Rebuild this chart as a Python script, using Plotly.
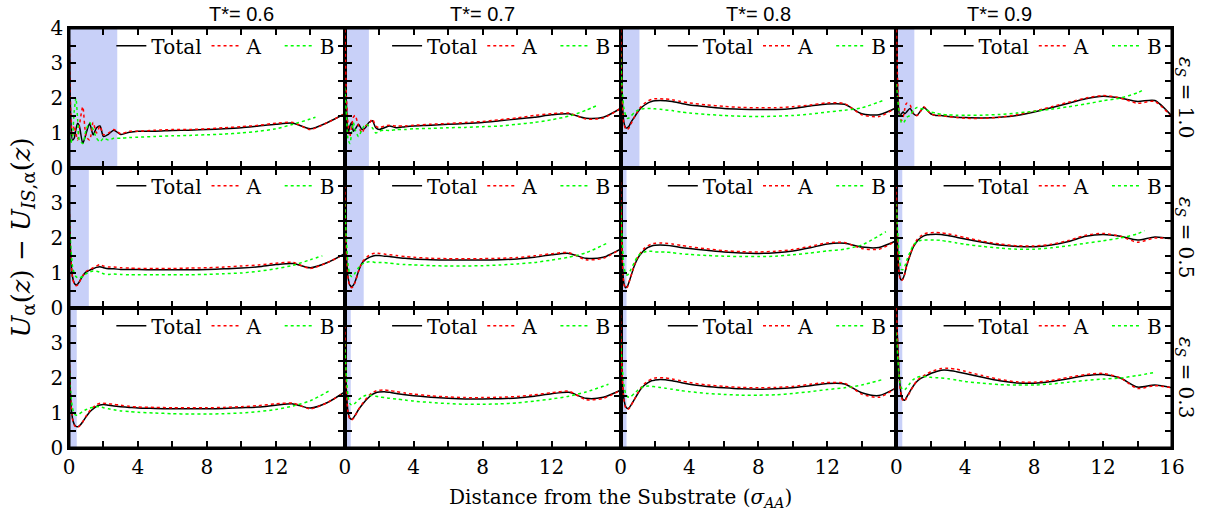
import plotly.graph_objects as go
from plotly.subplots import make_subplots

# ---------------- data ----------------
X = [0, 0.1, 0.2, 0.3, 0.4, 0.5, 0.6, 0.8, 1.0, 1.2, 1.4, 1.6, 1.8, 2.0, 2.3, 2.6,
     3.0, 3.5, 4, 5, 6, 7, 8, 9, 10, 11, 12, 13, 14, 15, 16]
X_B_BASE = X[:29]  # B component grid up to 14, then its own end point

TEMPS = ["0.6", "0.7", "0.8", "0.9"]
EPS = ["1.0", "0.5", "0.3"]

SHADE_END = [[2.8, 1.4, 1.1, 1.05],
             [1.15, 1.1, 0.35, 0.35],
             [0.45, 0.35, 0.35, 0.35]]
B_END = [[14.3, 14.7, 15.3, 14.4],
         [14.7, 15.3, 15.4, 14.4],
         [15.2, 15.3, 15.3, 15.0]]

# eps_S = 1.0
total_e10_t06 = [4.3, 1.5, 0.8, 0.85, 1.1, 1.28, 1.2, 0.7, 1.0, 1.27, 0.95, 1.15, 1.2, 0.9, 0.97, 1.08,
                 0.96, 1.02, 1.05, 1.05, 1.07, 1.08, 1.1, 1.12, 1.15, 1.2, 1.25, 1.28, 1.12, 1.3, 1.55]
a_e10_t06 = [4.3, 1.6, 0.9, 1.2, 1.0, 0.8, 1.2, 1.75, 0.9, 0.8, 1.3, 1.0, 1.2, 0.95, 1.0, 1.1,
             0.98, 1.05, 1.05, 1.08, 1.1, 1.1, 1.12, 1.15, 1.18, 1.22, 1.28, 1.3, 1.1, 1.3, 1.55]
b_e10_t06 = [1.7, 0.7, 0.9, 1.6, 2.0, 1.4, 0.8, 0.7, 1.1, 1.3, 1.1, 0.85, 0.75, 0.85, 0.8, 0.85,
             0.85, 0.87, 0.88, 0.9, 0.92, 0.93, 0.95, 0.97, 1.0, 1.05, 1.12, 1.25, 1.4, 1.45]

total_e10_t07 = [4.3, 1.8, 1.0, 1.2, 1.3, 1.05, 1.1, 1.25, 1.1, 1.15, 1.3, 1.35, 1.15, 1.1, 1.15, 1.2,
                 1.15, 1.18, 1.2, 1.22, 1.25, 1.27, 1.3, 1.35, 1.4, 1.45, 1.52, 1.55, 1.42, 1.45, 1.7]
a_e10_t07 = [4.3, 2.0, 1.2, 0.9, 1.2, 1.45, 1.5, 1.2, 1.0, 1.2, 1.25, 1.4, 1.2, 1.15, 1.2, 1.22,
             1.2, 1.2, 1.22, 1.25, 1.27, 1.3, 1.33, 1.38, 1.43, 1.5, 1.55, 1.57, 1.4, 1.43, 1.7]
b_e10_t07 = [2.3, 1.5, 0.8, 0.7, 1.0, 1.3, 1.1, 0.9, 1.1, 1.25, 1.2, 1.15, 1.0, 1.05, 1.08, 1.07,
             1.1, 1.1, 1.12, 1.13, 1.15, 1.16, 1.18, 1.2, 1.25, 1.3, 1.38, 1.48, 1.65, 1.8]

total_e10_t08 = [4.3, 2.0, 1.3, 1.15, 1.15, 1.2, 1.3, 1.45, 1.6, 1.72, 1.8, 1.86, 1.9, 1.92, 1.93, 1.92,
                 1.9, 1.85, 1.8, 1.75, 1.7, 1.68, 1.67, 1.67, 1.7, 1.77, 1.83, 1.82, 1.55, 1.52, 1.72]
a_e10_t08 = [4.3, 2.0, 1.25, 1.12, 1.1, 1.15, 1.25, 1.45, 1.62, 1.76, 1.85, 1.92, 1.96, 1.98, 1.98, 1.97,
             1.95, 1.9, 1.86, 1.8, 1.76, 1.73, 1.72, 1.72, 1.75, 1.8, 1.86, 1.84, 1.52, 1.47, 1.72]
b_e10_t08 = [3.3, 2.2, 1.7, 1.5, 1.42, 1.43, 1.48, 1.58, 1.65, 1.68, 1.7, 1.7, 1.7, 1.69, 1.68, 1.66,
             1.64, 1.6, 1.57, 1.53, 1.5, 1.48, 1.47, 1.48, 1.5, 1.54, 1.6, 1.65, 1.72, 1.94]

total_e10_t09 = [4.3, 2.0, 1.5, 1.55, 1.6, 1.55, 1.6, 1.7, 1.55, 1.5, 1.62, 1.73, 1.65, 1.55, 1.5, 1.5,
                 1.47, 1.45, 1.44, 1.43, 1.45, 1.5, 1.6, 1.72, 1.85, 1.98, 2.05, 2.0, 1.9, 1.93, 1.48]
a_e10_t09 = [4.3, 2.2, 1.5, 1.35, 1.45, 1.7, 1.85, 1.8, 1.55, 1.5, 1.62, 1.75, 1.65, 1.55, 1.5, 1.5,
             1.47, 1.44, 1.42, 1.42, 1.45, 1.52, 1.62, 1.75, 1.88, 2.0, 2.07, 2.0, 1.85, 1.9, 1.45]
b_e10_t09 = [2.4, 1.9, 1.5, 1.3, 1.28, 1.35, 1.45, 1.5, 1.65, 1.73, 1.7, 1.68, 1.65, 1.6, 1.57, 1.54,
             1.52, 1.51, 1.51, 1.51, 1.53, 1.57, 1.62, 1.68, 1.75, 1.83, 1.92, 2.0, 2.15, 2.25]

# eps_S = 0.5
total_e05_t06 = [3.2, 1.5, 0.9, 0.72, 0.66, 0.68, 0.75, 0.92, 1.03, 1.08, 1.12, 1.16, 1.18, 1.15, 1.12, 1.12,
                 1.1, 1.1, 1.1, 1.09, 1.09, 1.09, 1.1, 1.12, 1.14, 1.18, 1.24, 1.27, 1.15, 1.3, 1.55]
a_e05_t06 = [3.2, 1.5, 0.88, 0.7, 0.64, 0.66, 0.74, 0.92, 1.05, 1.1, 1.15, 1.2, 1.24, 1.2, 1.17, 1.17,
             1.15, 1.14, 1.13, 1.13, 1.13, 1.14, 1.15, 1.17, 1.2, 1.23, 1.28, 1.3, 1.13, 1.3, 1.55]
b_e05_t06 = [2.8, 1.8, 1.2, 1.0, 0.9, 0.86, 0.86, 0.9, 0.98, 1.03, 1.06, 1.05, 1.02, 0.98, 0.96, 0.97,
             0.96, 0.95, 0.95, 0.95, 0.95, 0.95, 0.96, 0.98, 1.0, 1.05, 1.12, 1.22, 1.38, 1.49]

total_e05_t07 = [3.5, 1.5, 0.85, 0.65, 0.61, 0.65, 0.75, 1.05, 1.28, 1.38, 1.44, 1.48, 1.5, 1.5, 1.48, 1.47,
                 1.44, 1.42, 1.4, 1.38, 1.37, 1.37, 1.37, 1.38, 1.4, 1.45, 1.52, 1.56, 1.42, 1.45, 1.68]
a_e05_t07 = [3.5, 1.5, 0.83, 0.62, 0.58, 0.62, 0.73, 1.05, 1.3, 1.42, 1.5, 1.55, 1.57, 1.56, 1.54, 1.52,
             1.5, 1.47, 1.45, 1.42, 1.41, 1.41, 1.41, 1.42, 1.44, 1.49, 1.55, 1.58, 1.38, 1.42, 1.68]
b_e05_t07 = [3.0, 1.9, 1.2, 0.95, 0.9, 0.92, 1.0, 1.15, 1.25, 1.3, 1.32, 1.32, 1.3, 1.3, 1.3, 1.28,
             1.26, 1.24, 1.23, 1.21, 1.2, 1.2, 1.21, 1.23, 1.26, 1.3, 1.37, 1.45, 1.58, 1.87]

total_e05_t08 = [3.6, 1.4, 0.7, 0.58, 0.62, 0.75, 0.9, 1.2, 1.42, 1.56, 1.66, 1.73, 1.77, 1.79, 1.8, 1.79,
                 1.77, 1.73, 1.7, 1.65, 1.6, 1.57, 1.56, 1.58, 1.63, 1.72, 1.83, 1.85, 1.74, 1.73, 1.92]
a_e05_t08 = [3.6, 1.4, 0.68, 0.56, 0.6, 0.74, 0.9, 1.22, 1.45, 1.6, 1.71, 1.78, 1.83, 1.85, 1.86, 1.85,
             1.83, 1.79, 1.75, 1.69, 1.64, 1.61, 1.6, 1.62, 1.67, 1.76, 1.86, 1.87, 1.7, 1.68, 1.92]
b_e05_t08 = [3.0, 1.9, 1.2, 0.98, 0.94, 1.0, 1.1, 1.3, 1.48, 1.57, 1.6, 1.62, 1.62, 1.6, 1.6, 1.6,
             1.58, 1.55, 1.53, 1.5, 1.48, 1.47, 1.47, 1.48, 1.52, 1.57, 1.63, 1.68, 1.8, 2.18]

total_e05_t09 = [3.5, 1.5, 0.9, 0.8, 0.85, 1.0, 1.2, 1.5, 1.75, 1.9, 2.0, 2.06, 2.09, 2.1, 2.11, 2.1,
                 2.07, 2.02, 1.97, 1.88, 1.8, 1.76, 1.75, 1.8, 1.9, 2.05, 2.1, 2.05, 1.94, 2.03, 1.98]
a_e05_t09 = [3.5, 1.5, 0.88, 0.78, 0.83, 0.98, 1.2, 1.52, 1.78, 1.95, 2.05, 2.11, 2.14, 2.15, 2.16, 2.15,
             2.12, 2.07, 2.01, 1.91, 1.83, 1.78, 1.77, 1.82, 1.93, 2.08, 2.13, 2.05, 1.88, 2.0, 1.98]
b_e05_t09 = [3.0, 2.0, 1.35, 1.1, 1.1, 1.2, 1.35, 1.6, 1.8, 1.9, 1.93, 1.94, 1.94, 1.94, 1.94, 1.93,
             1.9, 1.86, 1.82, 1.76, 1.71, 1.68, 1.68, 1.72, 1.78, 1.85, 1.92, 2.0, 2.12, 2.21]

# eps_S = 0.3
total_e03_t06 = [2.9, 1.4, 0.85, 0.68, 0.62, 0.61, 0.63, 0.75, 0.9, 1.03, 1.12, 1.19, 1.23, 1.24, 1.22, 1.2,
                 1.18, 1.16, 1.14, 1.13, 1.12, 1.12, 1.12, 1.13, 1.15, 1.17, 1.22, 1.26, 1.14, 1.3, 1.6]
a_e03_t06 = [2.9, 1.4, 0.84, 0.66, 0.6, 0.59, 0.62, 0.75, 0.92, 1.06, 1.16, 1.24, 1.28, 1.28, 1.26, 1.25,
             1.22, 1.19, 1.17, 1.16, 1.15, 1.15, 1.15, 1.16, 1.18, 1.21, 1.26, 1.28, 1.12, 1.3, 1.6]
b_e03_t06 = [2.5, 1.6, 1.15, 0.98, 0.94, 0.94, 0.97, 1.05, 1.1, 1.14, 1.16, 1.18, 1.18, 1.15, 1.12, 1.09,
             1.06, 1.04, 1.02, 1.0, 0.98, 0.97, 0.97, 0.98, 1.0, 1.04, 1.1, 1.2, 1.35, 1.66]

total_e03_t07 = [3.5, 1.6, 1.0, 0.85, 0.82, 0.86, 0.93, 1.1, 1.23, 1.35, 1.45, 1.53, 1.58, 1.6, 1.61, 1.59,
                 1.56, 1.52, 1.49, 1.45, 1.42, 1.4, 1.4, 1.41, 1.43, 1.48, 1.55, 1.59, 1.42, 1.45, 1.65]
a_e03_t07 = [3.5, 1.6, 0.98, 0.83, 0.8, 0.84, 0.92, 1.1, 1.25, 1.38, 1.5, 1.58, 1.63, 1.65, 1.66, 1.64,
             1.61, 1.57, 1.54, 1.49, 1.46, 1.44, 1.44, 1.45, 1.47, 1.52, 1.58, 1.62, 1.38, 1.42, 1.65]
b_e03_t07 = [3.0, 2.0, 1.45, 1.27, 1.23, 1.24, 1.28, 1.38, 1.45, 1.5, 1.51, 1.5, 1.48, 1.46, 1.44, 1.42,
             1.4, 1.37, 1.34, 1.3, 1.27, 1.25, 1.25, 1.26, 1.29, 1.34, 1.4, 1.48, 1.6, 1.82]

total_e03_t08 = [3.8, 2.0, 1.4, 1.18, 1.13, 1.15, 1.22, 1.38, 1.55, 1.7, 1.8, 1.87, 1.92, 1.94, 1.96, 1.95,
                 1.92, 1.87, 1.82, 1.76, 1.72, 1.69, 1.68, 1.69, 1.72, 1.78, 1.84, 1.83, 1.58, 1.5, 1.72]
a_e03_t08 = [3.8, 2.0, 1.38, 1.15, 1.1, 1.13, 1.2, 1.38, 1.57, 1.73, 1.84, 1.92, 1.97, 2.0, 2.01, 2.0,
             1.97, 1.92, 1.87, 1.8, 1.76, 1.73, 1.72, 1.73, 1.76, 1.82, 1.87, 1.85, 1.54, 1.45, 1.72]
b_e03_t08 = [3.2, 2.3, 1.8, 1.55, 1.47, 1.45, 1.47, 1.56, 1.65, 1.72, 1.76, 1.77, 1.76, 1.75, 1.73, 1.71,
             1.68, 1.64, 1.61, 1.56, 1.53, 1.51, 1.51, 1.52, 1.56, 1.61, 1.67, 1.72, 1.8, 1.97]

total_e03_t09 = [4.0, 2.8, 1.9, 1.5, 1.38, 1.37, 1.45, 1.62, 1.78, 1.9, 1.98, 2.03, 2.08, 2.13, 2.18, 2.22,
                 2.22, 2.18, 2.13, 2.02, 1.92, 1.86, 1.85, 1.9, 1.98, 2.07, 2.1, 2.0, 1.74, 1.8, 1.72]
a_e03_t09 = [4.0, 2.8, 1.85, 1.45, 1.35, 1.35, 1.43, 1.6, 1.78, 1.92, 2.01, 2.07, 2.12, 2.18, 2.23, 2.27,
             2.28, 2.25, 2.19, 2.07, 1.96, 1.89, 1.88, 1.93, 2.02, 2.1, 2.13, 2.0, 1.7, 1.78, 1.72]
b_e03_t09 = [3.3, 2.5, 1.9, 1.72, 1.66, 1.67, 1.72, 1.85, 1.96, 2.02, 2.04, 2.04, 2.03, 2.02, 2.01, 2.0,
             1.98, 1.94, 1.9, 1.85, 1.81, 1.8, 1.8, 1.83, 1.88, 1.93, 1.97, 2.0, 2.07, 2.16]

TOTAL = [[total_e10_t06, total_e10_t07, total_e10_t08, total_e10_t09],
         [total_e05_t06, total_e05_t07, total_e05_t08, total_e05_t09],
         [total_e03_t06, total_e03_t07, total_e03_t08, total_e03_t09]]
COMP_A = [[a_e10_t06, a_e10_t07, a_e10_t08, a_e10_t09],
          [a_e05_t06, a_e05_t07, a_e05_t08, a_e05_t09],
          [a_e03_t06, a_e03_t07, a_e03_t08, a_e03_t09]]
COMP_B = [[b_e10_t06, b_e10_t07, b_e10_t08, b_e10_t09],
          [b_e05_t06, b_e05_t07, b_e05_t08, b_e05_t09],
          [b_e03_t06, b_e03_t07, b_e03_t08, b_e03_t09]]

X_TICKS = [0, 2, 4, 6, 8, 10, 12, 14, 16]
Y_TICKS = [0, 0.5, 1, 1.5, 2, 2.5, 3, 3.5, 4]
SERIES_NAMES = ["Total", "A\u00a0\u00a0", "B"]

# ---------------- figure ----------------
SERIF = "DejaVu Serif"
SANS = "Liberation Sans"
SHADE = "rgb(200,208,248)"

fig = make_subplots(rows=3, cols=4, horizontal_spacing=0, vertical_spacing=0)

for r in range(3):
    for c in range(4):
        k = r * 4 + c + 1
        leg = "legend" if k == 1 else f"legend{k}"
        xb = X_B_BASE + [B_END[r][c]]
        fig.add_trace(go.Scatter(x=X, y=TOTAL[r][c], mode="lines", name=SERIES_NAMES[0], legend=leg,
                                 line=dict(color="black", width=1.5, shape="spline", smoothing=0.7)),
                      row=r + 1, col=c + 1)
        fig.add_trace(go.Scatter(x=X, y=COMP_A[r][c], mode="lines", name=SERIES_NAMES[1], legend=leg,
                                 line=dict(color="#ff0000", width=1.5, dash="dot", shape="spline", smoothing=0.7)),
                      row=r + 1, col=c + 1)
        fig.add_trace(go.Scatter(x=xb, y=COMP_B[r][c], mode="lines", name=SERIES_NAMES[2], legend=leg,
                                 line=dict(color="#00ff00", width=1.5, dash="dot", shape="spline", smoothing=0.7)),
                      row=r + 1, col=c + 1)
        fig.add_vrect(x0=0, x1=SHADE_END[r][c], row=r + 1, col=c + 1, fillcolor=SHADE, opacity=1,
                      line_width=0, layer="below")

        xd = fig.get_subplot(r + 1, c + 1).xaxis.domain
        yd = fig.get_subplot(r + 1, c + 1).yaxis.domain
        fig.update_layout({leg: dict(x=xd[1] - 0.004, y=yd[1] + 0.004, xanchor="right", yanchor="top",
                                     orientation="h", bgcolor="rgba(0,0,0,0)", borderwidth=0,
                                     font=dict(family=SERIF, size=20, color="black"),
                                     itemwidth=30, tracegroupgap=0)})

        xt = [str(v) if v % 4 == 0 and (v < 16 or c == 3) else "" for v in X_TICKS]
        yt = [str(int(v)) if v == int(v) and (v < 4 or r == 0) else "" for v in Y_TICKS]
        fig.update_xaxes(range=[0, 16], tickvals=X_TICKS, ticktext=xt, showticklabels=(r == 2),
                         row=r + 1, col=c + 1)
        fig.update_yaxes(range=[0, 4], tickvals=Y_TICKS, ticktext=yt, showticklabels=(c == 0),
                         row=r + 1, col=c + 1)

axis_style = dict(ticks="inside", ticklen=7, tickwidth=2, tickcolor="black", showline=True,
                  linewidth=1.5, linecolor="black", mirror="ticks", showgrid=False, zeroline=False,
                  automargin=False, tickfont=dict(family=SERIF, size=20, color="black"))
fig.update_xaxes(**axis_style)
fig.update_yaxes(**axis_style)

# thick outer frame
fig.add_shape(type="rect", xref="paper", yref="paper", x0=0, x1=1, y0=0, y1=1,
              line=dict(color="black", width=3), layer="above")

# column titles
for c, t in enumerate(TEMPS):
    xd = fig.get_subplot(1, c + 1).xaxis.domain
    fig.add_annotation(x=(xd[0] + xd[1]) / 2, y=1.0, xref="paper", yref="paper", yanchor="middle",
                       text=f"T*= {t}", showarrow=False, yshift=14,
                       font=dict(family=SANS, size=20, color="black"))
# row labels
for r, e in enumerate(EPS):
    yd = fig.get_subplot(r + 1, 1).yaxis.domain
    fig.add_annotation(x=1.012, y=(yd[0] + yd[1]) / 2, xref="paper", yref="paper", xanchor="center",
                       yanchor="middle", text=f"<i>ε</i><sub><i>S</i></sub> = {e}", textangle=90,
                       showarrow=False, font=dict(family=SERIF, size=20, color="black"))

fig.add_annotation(x=-0.043, y=0.5, xref="paper", yref="paper", xanchor="center", yanchor="middle",
                   text="<i>U</i><sub>α</sub>(<i>z</i>) − <i>U</i><sub><i>IS</i>,α</sub>(<i>z</i>)",
                   textangle=-90, showarrow=False, font=dict(family=SERIF, size=26, color="black"))
fig.add_annotation(x=0.5, y=-0.12, xref="paper", yref="paper", xanchor="center", yanchor="middle",
                   text="Distance from the Substrate (<i>σ</i><sub><i>AA</i></sub>)",
                   showarrow=False, font=dict(family=SERIF, size=20, color="black"))

# full-window figure; plot area at x 69-1172, y 28-448
fig.update_layout(width=1216, height=518, margin=dict(l=69, r=44, t=28, b=70),
                  plot_bgcolor="white", paper_bgcolor="white",
                  font=dict(family=SERIF, size=20, color="black"))

fig.write_html("out.html", config={"displayModeBar": False},
               post_script="document.body.style.margin='0';document.body.style.overflow='hidden';")
